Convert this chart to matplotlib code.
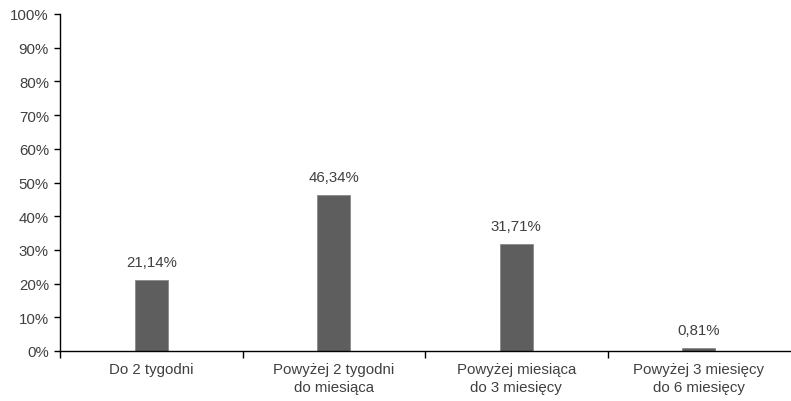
import matplotlib
matplotlib.use("Agg")
import matplotlib.pyplot as plt
import numpy as np

categories = ["Do 2 tygodni", "Powyżej 2 tygodni\ndo miesiąca",
              "Powyżej miesiąca\ndo 3 miesięcy", "Powyżej 3 miesięcy\ndo 6 miesięcy"]
values = [21.14, 46.34, 31.71, 0.81]
value_labels = ["21,14%", "46,34%", "31,71%", "0,81%"]
y_ticks = [0, 10, 20, 30, 40, 50, 60, 70, 80, 90, 100]

plt.rcParams['font.family'] = ['Liberation Sans', 'DejaVu Sans']
text_color = '#404040'

fig = plt.figure(figsize=(7.91, 4.02), dpi=100)
ax = fig.add_axes([60/791, 50/402, 730/791, 337/402])

x = np.arange(len(categories))
bars = ax.bar(x, values, width=0.18, color='#5e5e5e', edgecolor='#8a8a8a', linewidth=0.6)

for b, lab in zip(bars, value_labels):
    ax.annotate(lab, (b.get_x() + b.get_width()/2, b.get_height()),
                xytext=(0, 8), textcoords='offset points',
                ha='center', va='bottom', fontsize=10.8, color=text_color)

ax.set_xlim(-0.5, len(categories) - 0.5)
ax.set_ylim(0, 100)
ax.set_yticks(y_ticks)
ax.set_yticklabels([f"{t}%" for t in y_ticks])
ax.set_xticks(x)
ax.set_xticklabels(categories, linespacing=1.35)
# separators between categories (no tick at the right end)
ax.set_xticks(np.arange(-0.5, len(categories) - 1), minor=True)
ax.tick_params(axis='x', which='major', length=0, pad=8, labelsize=10.8, labelcolor=text_color)
ax.tick_params(axis='x', which='minor', length=5, width=1, direction='out')
ax.tick_params(axis='y', length=4, width=1, direction='out', labelsize=10.8, labelcolor=text_color, pad=4)

for s in ['top', 'right']:
    ax.spines[s].set_visible(False)
for s in ['left', 'bottom']:
    ax.spines[s].set_linewidth(1)
    ax.spines[s].set_color('black')

fig.savefig("out.png", dpi=100)
